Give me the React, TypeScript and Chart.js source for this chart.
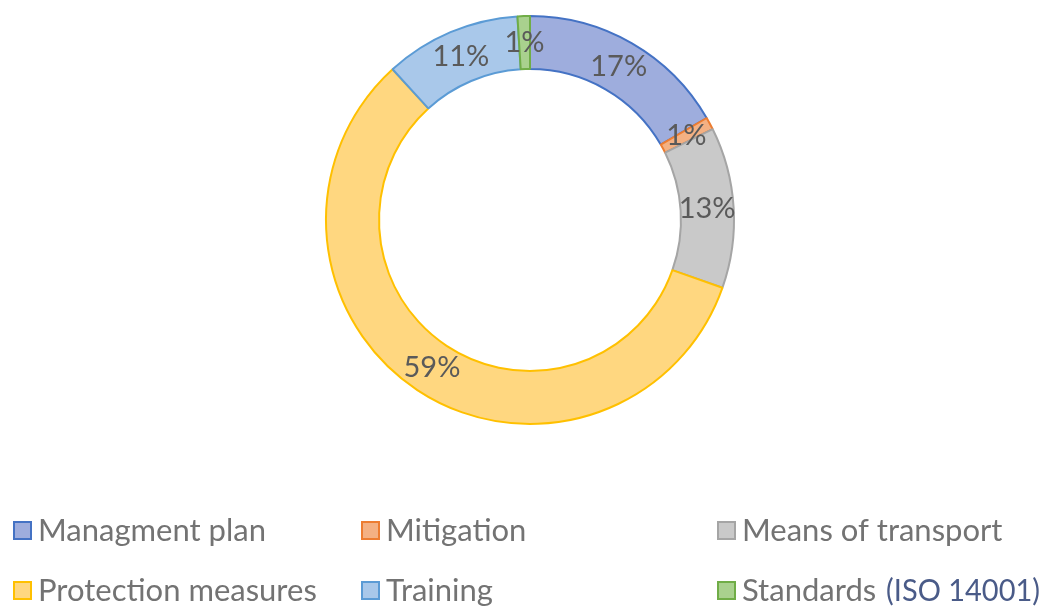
import React, { useEffect, useRef } from "react";
import { Chart, registerables } from "chart.js";

Chart.register(...registerables);

const categories = [
  "Managment plan",
  "Mitigation",
  "Means of transport",
  "Protection measures",
  "Training",
  "Standards (ISO 14001)",
];
const values = [17, 1, 13, 59, 11, 1];
const fillColors = ["#9eaddd", "#f4b183", "#c9c9c9", "#ffd780", "#a9c8ea", "#a9d18e"];
const borderColors = ["#4472c4", "#ed7d31", "#a5a5a5", "#ffc000", "#5b9bd5", "#70ad47"];

const FONT = "Lato, Calibri, 'Open Sans', sans-serif";

const labelsPlugin = {
  id: "sliceLabels",
  afterDatasetsDraw(chart: any) {
    const ctx = chart.ctx;
    const meta = chart.getDatasetMeta(0);
    ctx.save();
    ctx.font = `29px ${FONT}`;
    ctx.fillStyle = "#5a5a5a";
    ctx.textAlign = "center";
    ctx.textBaseline = "middle";
    meta.data.forEach((arc: any, i: number) => {
      const p = arc.getCenterPoint();
      ctx.fillText(`${values[i]}%`, p.x, p.y);
    });
    ctx.restore();
  },
};

const legendPlugin = {
  id: "customLegend",
  afterDraw(chart: any) {
    const ctx = chart.ctx;
    const colX = [13, 361, 717];
    const rowY = [531, 591];
    const rightLimit = chart.width - 3;
    ctx.save();
    ctx.font = `31px ${FONT}`;
    ctx.textBaseline = "middle";
    ctx.textAlign = "left";
    categories.forEach((name, i) => {
      const x = colX[i % 3];
      const y = rowY[Math.floor(i / 3)];
      ctx.fillStyle = fillColors[i];
      ctx.fillRect(x + 1, y - 9, 17, 17);
      ctx.strokeStyle = borderColors[i];
      ctx.lineWidth = 2;
      ctx.strokeRect(x + 1, y - 9, 17, 17);
      const tx = x + 25;
      const m = name.match(/^(.*?)(\s)(\(.*\))$/);
      if (m) {
        const first = m[1] + " ";
        ctx.fillStyle = "#737373";
        ctx.fillText(first, tx, y, rightLimit - tx);
        const w = ctx.measureText(first).width;
        ctx.fillStyle = "#4a5b88";
        const sx = tx + w + 2;
        ctx.fillText(m[3], sx, y, rightLimit - sx);
      } else {
        ctx.fillStyle = "#737373";
        ctx.fillText(name, tx, y, rightLimit - tx);
      }
    });
    ctx.restore();
  },
};

export default function App() {
  const ref = useRef<HTMLCanvasElement | null>(null);
  useEffect(() => {
    if (!ref.current) return;
    const chart = new Chart(ref.current, {
      type: "doughnut",
      data: {
        labels: categories,
        datasets: [
          {
            data: values,
            backgroundColor: fillColors,
            borderColor: borderColors,
            borderWidth: 2,
          },
        ],
      },
      options: {
        responsive: false,
        animation: false,
        cutout: "74%",
        layout: { padding: { left: 325, right: 308, top: 15, bottom: 181 } },
        plugins: {
          legend: { display: false },
          tooltip: { enabled: false },
        },
      },
      plugins: [labelsPlugin, legendPlugin],
    });
    return () => chart.destroy();
  }, []);
  return (
    <div style={{ position: "absolute", left: 0, top: 0, width: 1043, height: 606, background: "#fff" }}>
      <canvas ref={ref} width={1043} height={606} />
    </div>
  );
}
